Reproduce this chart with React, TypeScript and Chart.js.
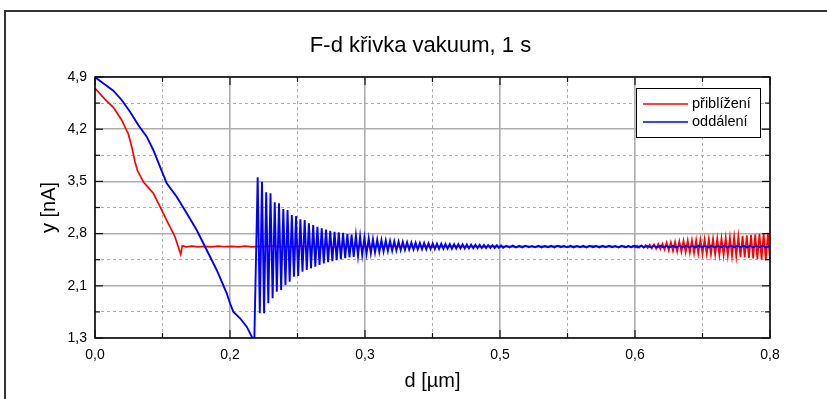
import React, { useEffect, useRef } from 'react';
import { Chart, registerables } from 'chart.js';
Chart.register(...registerables);

const chartTitle = 'F-d křivka vakuum, 1 s';
const xTitle = 'd [µm]';
const yTitle = 'y [nA]';
const seriesLabels = ['přiblížení', 'oddálení'];
const seriesColors = ['#ff0000', '#0000ff'];

const xTicks = [0, 0.08, 0.16, 0.24, 0.32, 0.4, 0.48, 0.56, 0.64, 0.72, 0.8];
const yTicks = [1.34, 1.7, 2.06, 2.42, 2.78, 3.14, 3.5, 3.86, 4.22, 4.58, 4.94];

// red (přiblížení): approach slope
const redApproach = [
  [0, 4.784], [0.0119, 4.632], [0.0217, 4.522], [0.0316, 4.347], [0.0395, 4.154],
  [0.0435, 3.979], [0.0474, 3.772], [0.0501, 3.657], [0.0572, 3.496], [0.0691, 3.336],
  [0.077, 3.151], [0.0857, 2.944], [0.0948, 2.737], [0.0999, 2.554], [0.1016, 2.494],
  [0.1035, 2.613],
];
// red: flat part
const redFlat = [
  [0.108, 2.598], [0.115, 2.606], [0.122, 2.597], [0.13, 2.605], [0.138, 2.598],
  [0.146, 2.607], [0.154, 2.599], [0.162, 2.604], [0.17, 2.597], [0.178, 2.606],
  [0.186, 2.598], [0.194, 2.605], [0.202, 2.599], [0.21, 2.606], [0.218, 2.597],
  [0.226, 2.604], [0.234, 2.598], [0.242, 2.606], [0.25, 2.599], [0.258, 2.605],
  [0.266, 2.597], [0.274, 2.606], [0.282, 2.598], [0.29, 2.604], [0.3, 2.599],
  [0.31, 2.606], [0.32, 2.598], [0.33, 2.605], [0.34, 2.597], [0.35, 2.606],
  [0.36, 2.599], [0.37, 2.604], [0.38, 2.598], [0.39, 2.606], [0.4, 2.597],
  [0.41, 2.605], [0.42, 2.599], [0.43, 2.606], [0.44, 2.598], [0.45, 2.604],
  [0.46, 2.597], [0.47, 2.606], [0.48, 2.599], [0.49, 2.605], [0.5, 2.598],
  [0.51, 2.606], [0.52, 2.597], [0.53, 2.604], [0.54, 2.599], [0.55, 2.606],
  [0.56, 2.598], [0.57, 2.605], [0.58, 2.597], [0.59, 2.606], [0.6, 2.599],
  [0.61, 2.604], [0.62, 2.597],
];
// red: growing oscillation at the end
const redGrow = [
  [0.6275, 2.608], [0.63, 2.593], [0.6325, 2.61], [0.635, 2.591], [0.6375, 2.612], [0.64, 2.589],
  [0.6425, 2.613], [0.645, 2.587], [0.6475, 2.616], [0.65, 2.585], [0.6525, 2.62], [0.655, 2.581],
  [0.6575, 2.627], [0.66, 2.575], [0.6625, 2.63], [0.665, 2.57], [0.6675, 2.638], [0.67, 2.565],
  [0.6725, 2.642], [0.675, 2.56], [0.6775, 2.655], [0.68, 2.548], [0.6825, 2.66], [0.685, 2.54],
  [0.6875, 2.668], [0.69, 2.533], [0.6925, 2.675], [0.695, 2.527], [0.6975, 2.682], [0.7, 2.52],
  [0.7025, 2.688], [0.705, 2.514], [0.7075, 2.69], [0.71, 2.508], [0.7125, 2.695], [0.715, 2.505],
  [0.7175, 2.698], [0.72, 2.5], [0.7225, 2.703], [0.725, 2.496], [0.7275, 2.708], [0.73, 2.492],
  [0.7325, 2.713], [0.735, 2.488], [0.7375, 2.715], [0.74, 2.484], [0.7425, 2.718], [0.745, 2.48],
  [0.7475, 2.725], [0.75, 2.474], [0.7525, 2.73], [0.755, 2.468], [0.7575, 2.736], [0.76, 2.462],
  [0.7625, 2.742], [0.765, 2.456], [0.7675, 2.75], [0.77, 2.45], [0.7725, 2.756], [0.775, 2.443],
  [0.7775, 2.762], [0.78, 2.437], [0.7825, 2.77], [0.785, 2.43], [0.7875, 2.778], [0.79, 2.42],
  [0.7925, 2.786], [0.795, 2.412], [0.7975, 2.792], [0.8, 2.405],
];

// blue (oddálení): retract slope
const blueRetract = [
  [0, 4.936], [0.0098, 4.853], [0.0217, 4.751], [0.0316, 4.623], [0.0415, 4.461],
  [0.0513, 4.278], [0.0613, 4.117], [0.0691, 3.933], [0.077, 3.703], [0.085, 3.474],
  [0.0968, 3.289], [0.1087, 3.06], [0.1205, 2.83], [0.1324, 2.554], [0.1442, 2.278],
  [0.1502, 2.117], [0.1561, 1.957], [0.16, 1.819], [0.1639, 1.703], [0.1719, 1.612],
  [0.1798, 1.496], [0.1864, 1.344], [0.1888, 1.3],
];
// blue: decaying ringing after snap-off
const blueRing = [
  [0.1928, 3.556], [0.1953, 1.68], [0.1979, 3.495], [0.2004, 1.68], [0.2029, 3.349], [0.2054, 1.82],
  [0.208, 3.335], [0.2105, 1.887], [0.213, 3.211], [0.2155, 1.978], [0.2181, 3.197], [0.2206, 2.001],
  [0.2232, 3.119], [0.2257, 2.07], [0.2282, 3.105], [0.2307, 2.116], [0.2333, 3.036], [0.2358, 2.185],
  [0.2383, 3.022], [0.2408, 2.194], [0.2434, 2.977], [0.2459, 2.254], [0.2485, 2.967], [0.251, 2.277],
  [0.2535, 2.921], [0.256, 2.301], [0.2586, 2.898], [0.2611, 2.323], [0.2636, 2.874], [0.2661, 2.346],
  [0.2687, 2.852], [0.2712, 2.37], [0.2738, 2.835], [0.2763, 2.385], [0.2788, 2.82], [0.2813, 2.4],
  [0.2839, 2.805], [0.2864, 2.415], [0.2889, 2.798], [0.2914, 2.428], [0.294, 2.79], [0.2965, 2.44],
  [0.2991, 2.775], [0.3016, 2.45], [0.3041, 2.765], [0.3066, 2.46], [0.3092, 2.755], [0.3117, 2.472],
  [0.3142, 2.742], [0.3167, 2.485], [0.3193, 2.725], [0.3218, 2.5], [0.3244, 2.715], [0.3269, 2.51],
  [0.3294, 2.705], [0.3319, 2.52], [0.3345, 2.698], [0.337, 2.528], [0.3395, 2.692], [0.342, 2.534],
  [0.3446, 2.686], [0.3471, 2.54], [0.3497, 2.68], [0.3522, 2.544], [0.3547, 2.675], [0.3572, 2.548],
  [0.3598, 2.67], [0.3623, 2.552], [0.3648, 2.666], [0.3673, 2.556], [0.3699, 2.662], [0.3724, 2.558],
  [0.375, 2.658], [0.3775, 2.56], [0.38, 2.655], [0.3825, 2.562], [0.3851, 2.652], [0.3876, 2.564],
  [0.3901, 2.65], [0.3926, 2.564], [0.3952, 2.647], [0.3977, 2.566], [0.4003, 2.645], [0.4028, 2.567],
  [0.4053, 2.643], [0.4078, 2.568], [0.4104, 2.641], [0.4129, 2.57], [0.4154, 2.639], [0.4179, 2.571],
  [0.4205, 2.637], [0.423, 2.572], [0.4256, 2.635], [0.4281, 2.573], [0.4306, 2.633], [0.4331, 2.574],
  [0.4357, 2.631], [0.4382, 2.575], [0.4407, 2.63], [0.4432, 2.576], [0.4458, 2.628], [0.4483, 2.578],
  [0.4509, 2.626], [0.4534, 2.579], [0.4559, 2.625], [0.4584, 2.58], [0.461, 2.623], [0.4635, 2.581],
  [0.466, 2.622], [0.4685, 2.582], [0.4711, 2.62], [0.4736, 2.583], [0.4762, 2.619], [0.4787, 2.584],
  [0.4812, 2.618], [0.4837, 2.585],
];
// blue: small residual noise
const blueTail = [
  [0.4875, 2.612], [0.4913, 2.588], [0.4951, 2.614], [0.4989, 2.59], [0.5027, 2.611], [0.5065, 2.589],
  [0.5103, 2.613], [0.5141, 2.591], [0.5179, 2.61], [0.5217, 2.592], [0.5255, 2.612], [0.5293, 2.589],
  [0.5331, 2.609], [0.5369, 2.593], [0.5407, 2.611], [0.5445, 2.59], [0.5483, 2.613], [0.5521, 2.592],
  [0.5559, 2.608], [0.5597, 2.591], [0.5635, 2.612], [0.5673, 2.59], [0.5711, 2.61], [0.5749, 2.593],
  [0.5787, 2.611], [0.5825, 2.589], [0.5863, 2.612], [0.5901, 2.592], [0.5939, 2.609], [0.5977, 2.59],
  [0.6015, 2.611], [0.6053, 2.591], [0.6091, 2.613], [0.6129, 2.592], [0.6167, 2.61], [0.6205, 2.59],
  [0.6243, 2.612], [0.6281, 2.591], [0.6319, 2.609], [0.6357, 2.592], [0.6395, 2.611], [0.6433, 2.59],
  [0.6471, 2.612], [0.6509, 2.593], [0.6547, 2.61], [0.6585, 2.591], [0.6623, 2.611], [0.6661, 2.59],
  [0.6699, 2.612], [0.6737, 2.592], [0.6775, 2.609], [0.6813, 2.591], [0.6851, 2.611], [0.6889, 2.59],
  [0.6927, 2.613], [0.6965, 2.592], [0.7003, 2.61], [0.7041, 2.591], [0.7079, 2.612], [0.7117, 2.59],
  [0.7155, 2.611], [0.7193, 2.592], [0.7231, 2.61], [0.7269, 2.59], [0.7307, 2.612], [0.7345, 2.591],
  [0.7383, 2.609], [0.7421, 2.592], [0.7459, 2.611], [0.7497, 2.59], [0.7535, 2.612], [0.7573, 2.591],
  [0.7611, 2.61], [0.7649, 2.592], [0.7687, 2.611], [0.7725, 2.59], [0.7763, 2.612], [0.7801, 2.591],
  [0.7839, 2.61], [0.7877, 2.592], [0.7915, 2.611], [0.7953, 2.59], [0.7991, 2.608],
];

const FONT = '"Liberation Sans", Arial, Helvetica, sans-serif';
const toPts = (arr: number[][]) => arr.map(([x, y]) => ({ x, y }));
const fmt = (v: number) => v.toFixed(1).replace('.', ',');

const decorPlugin = {
  id: 'decor',
  afterDraw(chart: any) {
    const { ctx, chartArea: a, scales } = chart;
    const xs = scales.x;
    const ys = scales.y;
    const seg = (x1: number, y1: number, x2: number, y2: number) => {
      ctx.beginPath();
      ctx.moveTo(x1, y1);
      ctx.lineTo(x2, y2);
      ctx.stroke();
    };
    ctx.save();
    // outer frame
    ctx.strokeStyle = '#333';
    ctx.lineWidth = 2;
    ctx.beginPath();
    ctx.moveTo(5, chart.height + 5);
    ctx.lineTo(5, 11);
    ctx.lineTo(chart.width + 5, 11);
    ctx.stroke();
    // plot border
    ctx.strokeStyle = '#000';
    ctx.lineWidth = 1.5;
    ctx.strokeRect(a.left, a.top, a.right - a.left, a.bottom - a.top);
    // inward tick marks
    ctx.lineWidth = 1.2;
    ctx.strokeStyle = '#111';
    xs.ticks.forEach((t: any, i: number) => {
      const p = xs.getPixelForValue(t.value);
      const len = i % 2 ? 5 : 8;
      seg(p, a.bottom, p, a.bottom - len);
      seg(p, a.top, p, a.top + len);
    });
    ys.ticks.forEach((t: any, i: number) => {
      const p = ys.getPixelForValue(t.value);
      const len = i % 2 ? 5 : 8;
      seg(a.left, p, a.left + len, p);
      seg(a.right, p, a.right - len, p);
    });
    // title
    ctx.fillStyle = '#000';
    ctx.textAlign = 'center';
    ctx.textBaseline = 'middle';
    ctx.font = `22px ${FONT}`;
    ctx.fillText(chartTitle, chart.width / 2 + 7, 46);
    // axis titles
    ctx.font = `20px ${FONT}`;
    ctx.fillText(xTitle, (a.left + a.right) / 2, 381);
    ctx.save();
    ctx.translate(49, (a.top + a.bottom) / 2);
    ctx.rotate(-Math.PI / 2);
    ctx.fillText(yTitle, 0, 0);
    ctx.restore();
    // legend
    const lx = a.right - 134;
    const ly = a.top + 11;
    ctx.fillStyle = '#fff';
    ctx.fillRect(lx, ly, 124, 49);
    ctx.strokeStyle = '#000';
    ctx.lineWidth = 1;
    ctx.strokeRect(lx + 0.5, ly + 0.5, 124, 49);
    ctx.font = `14.5px ${FONT}`;
    ctx.textAlign = 'left';
    chart.data.datasets.forEach((ds: any, i: number) => {
      const yy = ly + 16 + i * 18;
      ctx.strokeStyle = ds.borderColor;
      ctx.lineWidth = 1.5;
      seg(lx + 7, yy, lx + 52, yy);
      ctx.fillStyle = '#000';
      ctx.fillText(ds.label, lx + 56, yy);
    });
    ctx.restore();
  },
};

export default function App() {
  const ref = useRef<HTMLCanvasElement>(null);
  useEffect(() => {
    if (!ref.current) return;
    const isMinor = (c: any) => (c.index ?? 0) % 2 === 1;
    const chart = new Chart(ref.current, {
      type: 'line',
      data: {
        datasets: [
          {
            label: seriesLabels[0],
            data: toPts([...redApproach, ...redFlat, ...redGrow]),
            borderColor: seriesColors[0],
            backgroundColor: seriesColors[0],
            borderWidth: 1.7,
            pointRadius: 0,
            tension: 0,
            order: 1,
            clip: 0,
          },
          {
            label: seriesLabels[1],
            data: toPts([...blueRetract, ...blueRing, ...blueTail]),
            borderColor: seriesColors[1],
            backgroundColor: seriesColors[1],
            borderWidth: 1.9,
            pointRadius: 0,
            tension: 0,
            order: 0,
            clip: 0,
          },
        ],
      },
      options: {
        animation: false,
        responsive: false,
        events: [],
        layout: { padding: { top: 77, right: 57, bottom: 0, left: 0 } },
        plugins: { legend: { display: false }, title: { display: false }, tooltip: { enabled: false } },
        scales: {
          x: {
            type: 'linear',
            min: 0,
            max: 0.8,
            afterBuildTicks: (s: any) => { s.ticks = xTicks.map((v) => ({ value: v })); },
            afterFit: (s: any) => { s.height = 61; },
            border: { display: false, dash: (c: any) => (isMinor(c) ? [3, 3] : []) },
            grid: {
              drawTicks: false,
              color: '#adadad',
              lineWidth: (c: any) => (isMinor(c) ? 1 : 1.6),
            },
            ticks: {
              autoSkip: false,
              maxRotation: 0,
              padding: 9,
              color: '#000',
              font: { size: 14, family: FONT },
              callback: (v: any, i: number) => (i % 2 ? '' : fmt(Number(v))),
            },
          },
          y: {
            type: 'linear',
            min: 1.34,
            max: 4.94,
            afterBuildTicks: (s: any) => { s.ticks = yTicks.map((v) => ({ value: v })); },
            afterFit: (s: any) => { s.width = 95; },
            border: { display: false, dash: (c: any) => (isMinor(c) ? [3, 3] : []) },
            grid: {
              drawTicks: false,
              color: '#adadad',
              lineWidth: (c: any) => (isMinor(c) ? 1 : 1.6),
            },
            ticks: {
              autoSkip: false,
              padding: 8,
              color: '#000',
              font: { size: 14, family: FONT },
              callback: (v: any, i: number) => (i % 2 ? '' : fmt(Number(v))),
            },
          },
        },
      },
      plugins: [decorPlugin],
    } as any);
    return () => chart.destroy();
  }, []);
  return (
    <div style={{ position: 'fixed', left: 0, top: 0, width: 827, height: 399, background: '#fff' }}>
      <canvas ref={ref} width={827} height={399} style={{ display: 'block' }} />
    </div>
  );
}
